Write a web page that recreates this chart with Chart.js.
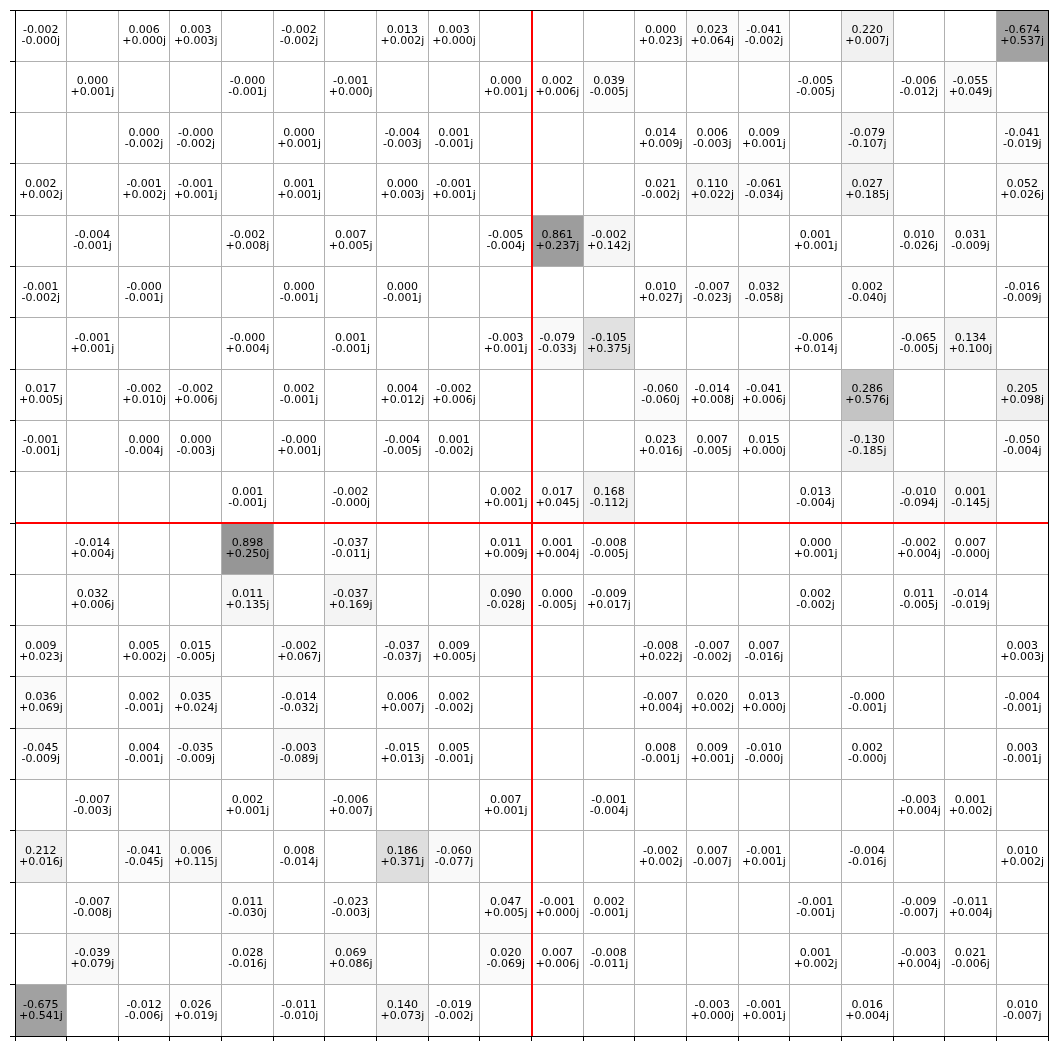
<!DOCTYPE html>
<html>
<head>
<meta charset="utf-8">
<script src="https://cdn.jsdelivr.net/npm/chart.js@4/dist/chart.umd.min.js"></script>
<style>
html,body{margin:0;padding:0;background:#ffffff;}
#wrap{width:1058px;height:1051px;}
canvas{display:block;}
</style>
</head>
<body>
<div id="wrap"><canvas id="c" width="1058" height="1051"></canvas></div>
<script>
const _ = null;
// matrix size and split position (red lines)
const N_ROWS = 20;
const N_COLS = 20;
const SPLIT_ROW = 10;
const SPLIT_COL = 10;

// real parts, row by row (null = empty cell)
const realPart = [
  [-0.002,_,0.006,0.003,_,-0.002,_,0.013,0.003,_,_,_,0.000,0.023,-0.041,_,0.220,_,_,-0.674],
  [_,0.000,_,_,-0.0004,_,-0.001,_,_,0.000,0.002,0.039,_,_,_,-0.005,_,-0.006,-0.055,_],
  [_,_,0.000,-0.0004,_,0.000,_,-0.004,0.001,_,_,_,0.014,0.006,0.009,_,-0.079,_,_,-0.041],
  [0.002,_,-0.001,-0.001,_,0.001,_,0.000,-0.001,_,_,_,0.021,0.110,-0.061,_,0.027,_,_,0.052],
  [_,-0.004,_,_,-0.002,_,0.007,_,_,-0.005,0.861,-0.002,_,_,_,0.001,_,0.010,0.031,_],
  [-0.001,_,-0.0004,_,_,0.000,_,0.000,_,_,_,_,0.010,-0.007,0.032,_,0.002,_,_,-0.016],
  [_,-0.001,_,_,-0.0004,_,0.001,_,_,-0.003,-0.079,-0.105,_,_,_,-0.006,_,-0.065,0.134,_],
  [0.017,_,-0.002,-0.002,_,0.002,_,0.004,-0.002,_,_,_,-0.060,-0.014,-0.041,_,0.286,_,_,0.205],
  [-0.001,_,0.000,0.000,_,-0.0004,_,-0.004,0.001,_,_,_,0.023,0.007,0.015,_,-0.130,_,_,-0.050],
  [_,_,_,_,0.001,_,-0.002,_,_,0.002,0.017,0.168,_,_,_,0.013,_,-0.010,0.001,_],
  [_,-0.014,_,_,0.898,_,-0.037,_,_,0.011,0.001,-0.008,_,_,_,0.000,_,-0.002,0.007,_],
  [_,0.032,_,_,0.011,_,-0.037,_,_,0.090,0.000,-0.009,_,_,_,0.002,_,0.011,-0.014,_],
  [0.009,_,0.005,0.015,_,-0.002,_,-0.037,0.009,_,_,_,-0.008,-0.007,0.007,_,_,_,_,0.003],
  [0.036,_,0.002,0.035,_,-0.014,_,0.006,0.002,_,_,_,-0.007,0.020,0.013,_,-0.0004,_,_,-0.004],
  [-0.045,_,0.004,-0.035,_,-0.003,_,-0.015,0.005,_,_,_,0.008,0.009,-0.010,_,0.002,_,_,0.003],
  [_,-0.007,_,_,0.002,_,-0.006,_,_,0.007,_,-0.001,_,_,_,_,_,-0.003,0.001,_],
  [0.212,_,-0.041,0.006,_,0.008,_,0.186,-0.060,_,_,_,-0.002,0.007,-0.001,_,-0.004,_,_,0.010],
  [_,-0.007,_,_,0.011,_,-0.023,_,_,0.047,-0.001,0.002,_,_,_,-0.001,_,-0.009,-0.011,_],
  [_,-0.039,_,_,0.028,_,0.069,_,_,0.020,0.007,-0.008,_,_,_,0.001,_,-0.003,0.021,_],
  [-0.675,_,-0.012,0.026,_,-0.011,_,0.140,-0.019,_,_,_,_,-0.003,-0.001,_,0.016,_,_,0.010]
];

// imaginary parts, row by row (null = empty cell)
const imagPart = [
  [-0.0004,_,0.000,0.003,_,-0.002,_,0.002,0.000,_,_,_,0.023,0.064,-0.002,_,0.007,_,_,0.537],
  [_,0.001,_,_,-0.001,_,0.000,_,_,0.001,0.006,-0.005,_,_,_,-0.005,_,-0.012,0.049,_],
  [_,_,-0.002,-0.002,_,0.001,_,-0.003,-0.001,_,_,_,0.009,-0.003,0.001,_,-0.107,_,_,-0.019],
  [0.002,_,0.002,0.001,_,0.001,_,0.003,0.001,_,_,_,-0.002,0.022,-0.034,_,0.185,_,_,0.026],
  [_,-0.001,_,_,0.008,_,0.005,_,_,-0.004,0.237,0.142,_,_,_,0.001,_,-0.026,-0.009,_],
  [-0.002,_,-0.001,_,_,-0.001,_,-0.001,_,_,_,_,0.027,-0.023,-0.058,_,-0.040,_,_,-0.009],
  [_,0.001,_,_,0.004,_,-0.001,_,_,0.001,-0.033,0.375,_,_,_,0.014,_,-0.005,0.100,_],
  [0.005,_,0.010,0.006,_,-0.001,_,0.012,0.006,_,_,_,-0.060,0.008,0.006,_,0.576,_,_,0.098],
  [-0.001,_,-0.004,-0.003,_,0.001,_,-0.005,-0.002,_,_,_,0.016,-0.005,0.000,_,-0.185,_,_,-0.004],
  [_,_,_,_,-0.001,_,-0.0004,_,_,0.001,0.045,-0.112,_,_,_,-0.004,_,-0.094,-0.145,_],
  [_,0.004,_,_,0.250,_,-0.011,_,_,0.009,0.004,-0.005,_,_,_,0.001,_,0.004,-0.0004,_],
  [_,0.006,_,_,0.135,_,0.169,_,_,-0.028,-0.005,0.017,_,_,_,-0.002,_,-0.005,-0.019,_],
  [0.023,_,0.002,-0.005,_,0.067,_,-0.037,0.005,_,_,_,0.022,-0.002,-0.016,_,_,_,_,0.003],
  [0.069,_,-0.001,0.024,_,-0.032,_,0.007,-0.002,_,_,_,0.004,0.002,0.000,_,-0.001,_,_,-0.001],
  [-0.009,_,-0.001,-0.009,_,-0.089,_,0.013,-0.001,_,_,_,-0.001,0.001,-0.0004,_,-0.0004,_,_,-0.001],
  [_,-0.003,_,_,0.001,_,0.007,_,_,0.001,_,-0.004,_,_,_,_,_,0.004,0.002,_],
  [0.016,_,-0.045,0.115,_,-0.014,_,0.371,-0.077,_,_,_,0.002,-0.007,0.001,_,-0.016,_,_,0.002],
  [_,-0.008,_,_,-0.030,_,-0.003,_,_,0.005,0.000,-0.001,_,_,_,-0.001,_,-0.007,0.004,_],
  [_,0.079,_,_,-0.016,_,0.086,_,_,-0.069,0.006,-0.011,_,_,_,0.002,_,0.004,-0.006,_],
  [0.541,_,-0.006,0.019,_,-0.010,_,0.073,-0.002,_,_,_,_,0.000,0.001,_,0.004,_,_,-0.007]
];

// matplotlib "Greys" colormap control points
const GREYS = [255,240,217,189,150,115,82,37,0];
function greyColor(t){
  t = Math.max(0, Math.min(1, t));
  const p = t * (GREYS.length - 1);
  const i = Math.min(GREYS.length - 2, Math.floor(p));
  const f = p - i;
  const v = Math.round(GREYS[i] + (GREYS[i+1] - GREYS[i]) * f);
  return 'rgb(' + v + ',' + v + ',' + v + ')';
}

// build list of cells
const cells = [];
let maxAbs = 0;
for (let r = 0; r < N_ROWS; r++) {
  for (let c = 0; c < N_COLS; c++) {
    const re = realPart[r][c], im = imagPart[r][c];
    if (re === null || im === null) continue;
    const a = Math.hypot(re, im);
    if (a > maxAbs) maxAbs = a;
    cells.push({x: c + 0.5, y: r + 0.5, row: r, col: c, re: re, im: im, abs: a});
  }
}
const vmax = 2 * maxAbs;

function fmtRe(v){ return v.toFixed(3); }
function fmtIm(v){ return (v < 0 ? '' : '+') + v.toFixed(3) + 'j'; }

const heatPlugin = {
  id: 'heat',
  beforeDraw(chart) {
    const ctx = chart.ctx;
    const xs = chart.scales.x, ys = chart.scales.y;
    ctx.save();
    ctx.fillStyle = '#ffffff';
    ctx.fillRect(0, 0, chart.width, chart.height);
    for (const cell of cells) {
      const x0 = xs.getPixelForValue(cell.col), x1 = xs.getPixelForValue(cell.col + 1);
      const y0 = ys.getPixelForValue(cell.row), y1 = ys.getPixelForValue(cell.row + 1);
      ctx.fillStyle = greyColor(cell.abs / vmax);
      ctx.fillRect(Math.min(x0,x1), Math.min(y0,y1), Math.abs(x1-x0), Math.abs(y1-y0));
    }
    ctx.restore();
  },
  afterDraw(chart) {
    const ctx = chart.ctx;
    const xs = chart.scales.x, ys = chart.scales.y;
    const area = chart.chartArea;
    ctx.save();
    // red separator lines
    ctx.strokeStyle = '#ff0000';
    ctx.lineWidth = 2;
    const sx = Math.round(xs.getPixelForValue(SPLIT_COL));
    const sy = Math.round(ys.getPixelForValue(SPLIT_ROW));
    ctx.beginPath();
    ctx.moveTo(sx, area.top); ctx.lineTo(sx, area.bottom);
    ctx.moveTo(area.left, sy); ctx.lineTo(area.right, sy);
    ctx.stroke();
    // frame
    ctx.strokeStyle = '#000000';
    ctx.lineWidth = 1;
    ctx.strokeRect(Math.round(area.left) + 0.5, Math.round(area.top) + 0.5,
                   Math.round(area.right) - Math.round(area.left) - 1 + 1,
                   Math.round(area.bottom) - Math.round(area.top));
    // labels
    ctx.fillStyle = '#000000';
    ctx.font = '11px "DejaVu Sans"';
    ctx.textAlign = 'center';
    ctx.textBaseline = 'middle';
    for (const cell of cells) {
      const cx = xs.getPixelForValue(cell.x);
      const cy = ys.getPixelForValue(cell.y);
      ctx.fillText(fmtRe(cell.re), cx, cy - 5.5);
      ctx.fillText(fmtIm(cell.im), cx, cy + 5.5);
    }
    ctx.restore();
  }
};

const axisCommon = {
  type: 'linear',
  min: 0,
  max: 20,
  ticks: {display: false, stepSize: 1, autoSkip: false},
  grid: {color: '#b0b0b0', lineWidth: 1, drawTicks: true, tickLength: 5, tickColor: '#000000', tickWidth: 1},
  border: {display: true, color: '#000000', width: 1}
};

new Chart(document.getElementById('c'), {
  type: 'scatter',
  data: {
    datasets: [{
      label: 'cells',
      data: cells.map(c => ({x: c.x, y: c.y})),
      pointRadius: 0,
      pointHoverRadius: 0
    }]
  },
  options: {
    responsive: false,
    animation: false,
    devicePixelRatio: 1,
    layout: {padding: {left: 10, right: 10, top: 10, bottom: 10}},
    plugins: {legend: {display: false}, tooltip: {enabled: false}},
    events: [],
    scales: {
      x: Object.assign({}, axisCommon, {position: 'bottom'}),
      y: Object.assign({}, axisCommon, {position: 'left', reverse: true})
    }
  },
  plugins: [heatPlugin]
});
</script>
</body>
</html>
